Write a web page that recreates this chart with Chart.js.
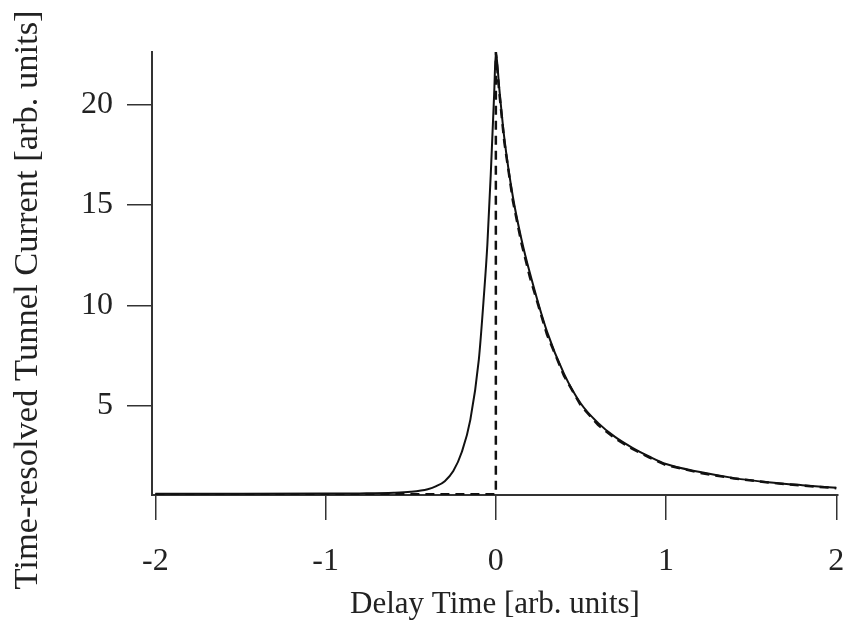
<!DOCTYPE html>
<html>
<head>
<meta charset="utf-8">
<script src="https://cdn.jsdelivr.net/npm/chart.js@4/dist/chart.umd.min.js"></script>
<style>
  html, body { margin: 0; padding: 0; background: #fff; }
  #wrap { width: 845px; height: 623px; }
</style>
</head>
<body>
<div id="wrap"><canvas id="lineChart" width="845" height="623"></canvas></div>
<script>
// measured signal (solid)
const measTime = [-2, -1.5, -1, -0.8, -0.6, -0.5, -0.4, -0.35, -0.3, -0.25, -0.2, -0.15, -0.1, -0.07, -0.05, -0.03, -0.01, 0,
                  0.02, 0.05, 0.1, 0.15, 0.2, 0.3, 0.4, 0.5, 0.6, 0.7, 0.8, 0.9, 1.0, 1.2, 1.4, 1.6, 1.8, 2.0];
const measCurrent = [0.62, 0.62, 0.63, 0.64, 0.67, 0.72, 0.85, 1.0, 1.25, 1.75, 2.7, 4.3, 7.3, 10.5, 13.0, 16.5, 20.5, 22.6,
                     20.8, 18.3, 15.4, 13.3, 11.6, 8.7, 6.6, 5.1, 4.15, 3.45, 2.92, 2.48, 2.1, 1.7, 1.4, 1.2, 1.05, 0.92];

// model response (dashed)
const modelTime = [-2, -1, 0, 0, 0.02, 0.05, 0.1, 0.15, 0.2, 0.3, 0.4, 0.5, 0.6, 0.7, 0.8, 0.9, 1.0, 1.2, 1.4, 1.6, 1.8, 2.0];
const modelCurrent = [0.6, 0.6, 0.6, 22.6, 20.6, 18.1, 15.2, 13.1, 11.4, 8.55, 6.5, 5.0, 4.05, 3.38, 2.86, 2.43, 2.05, 1.66, 1.38, 1.18, 1.03, 0.9];

const xTicks = [-2, -1, 0, 1, 2];
const yTicks = [5, 10, 15, 20];
const yTitle = 'Time-resolved Tunnel Current [arb. units]';

function toPoints(xs, ys) {
    return xs.map((x, i) => ({ x: x, y: ys[i] }));
}

const serif = "'Liberation Serif', 'DejaVu Serif', serif";
const ink = '#222';

// y title drawn by hand so it can sit a bit lower than the chart-area centre, like the original
const yTitlePlugin = {
    id: 'yTitle',
    afterDraw(chart) {
        const c = chart.ctx;
        c.save();
        c.translate(28, 300);
        c.rotate(-Math.PI / 2);
        c.fillStyle = ink;
        c.font = '34.5px ' + serif;
        c.textAlign = 'center';
        c.textBaseline = 'middle';
        c.fillText(yTitle, 0, 0);
        c.restore();
    }
};

const ctx = document.getElementById('lineChart').getContext('2d');
new Chart(ctx, {
    type: 'scatter',
    data: {
        datasets: [{
            label: 'Measured',
            data: toPoints(measTime, measCurrent),
            showLine: true,
            borderColor: '#111',
            borderWidth: 2,
            pointRadius: 0,
            cubicInterpolationMode: 'monotone'
        }, {
            label: 'Model',
            data: toPoints(modelTime, modelCurrent),
            showLine: true,
            borderColor: '#111',
            borderWidth: 2.5,
            borderDash: [9, 6],
            pointRadius: 0,
            tension: 0
        }]
    },
    plugins: [yTitlePlugin],
    options: {
        responsive: false,
        animation: false,
        layout: { padding: { top: 52, right: 7, left: 0, bottom: 0 } },
        plugins: { legend: { display: false }, tooltip: { enabled: false } },
        scales: {
            x: {
                type: 'linear',
                min: -2.02,
                max: 2.01,
                afterBuildTicks: axis => { axis.ticks = xTicks.map(v => ({ value: v })); },
                afterFit: axis => { axis.height = 128; axis.paddingLeft = 0; axis.paddingRight = 0; },
                grid: { drawOnChartArea: false, tickLength: 25, color: '#333', lineWidth: 1.5 },
                border: { color: '#333', width: 2 },
                ticks: { color: ink, font: { family: serif, size: 32 }, padding: 22, maxRotation: 0 },
                title: { display: true, text: 'Delay Time [arb. units]', color: ink,
                         font: { family: serif, size: 31 }, padding: { top: 0, bottom: 0 } }
            },
            y: {
                type: 'linear',
                min: 0.56,
                max: 22.6,
                afterBuildTicks: axis => { axis.ticks = yTicks.map(v => ({ value: v })); },
                afterFit: axis => { axis.width = 152; axis.paddingTop = 0; axis.paddingBottom = 0; },
                grid: { drawOnChartArea: false, tickLength: 25, color: '#333', lineWidth: 1.5 },
                border: { color: '#333', width: 2 },
                ticks: { color: ink, font: { family: serif, size: 32 }, padding: 14 },
                title: { display: false }
            }
        }
    }
});
</script>
</body>
</html>
